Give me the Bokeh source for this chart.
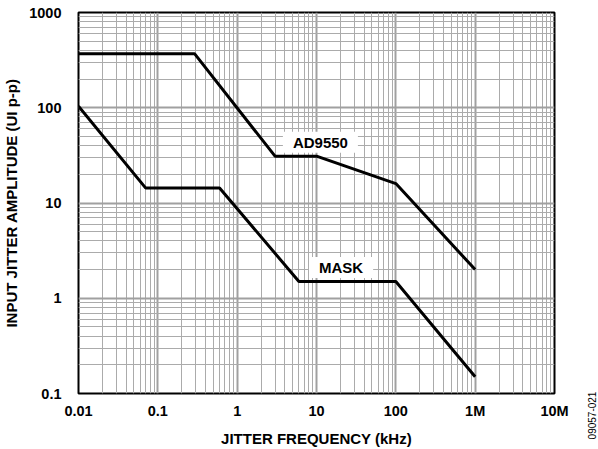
import math
from bokeh.plotting import figure
from bokeh.layouts import row
from bokeh.models import FixedTicker, CustomJSTickFormatter, Label
from bokeh.embed import file_html
from bokeh.resources import INLINE

# ---- data ----
x_ticks = [0.01, 0.1, 1, 10, 100, 1000, 10000]
x_tick_labels = ["0.01", "0.1", "1", "10", "100", "1M", "10M"]
y_ticks = [0.1, 1, 10, 100, 1000]
y_tick_labels = ["0.1", "1", "10", "100", "1000"]

ad9550_freq = [0.01, 0.29, 3.0, 10, 100, 1000]
ad9550_amp = [370, 370, 31, 31, 16, 2.0]

mask_freq = [0.01, 0.07, 0.6, 6, 100, 1000]
mask_amp = [104, 14.4, 14.4, 1.5, 1.5, 0.15]

series_names = ["AD9550", "MASK"]
x_title = "JITTER FREQUENCY (kHz)"
y_title = "INPUT JITTER AMPLITUDE (UI p-p)"
fig_id = "09057-021"

FONT = "Liberation Sans"


def minors(majors):
    out = []
    for m in majors[:-1]:
        for k in range(2, 10):
            out.append(m * k)
    return out


p = figure(width=582, height=449, x_axis_type="log", y_axis_type="log",
           x_range=(x_ticks[0], x_ticks[-1]), y_range=(y_ticks[0], y_ticks[-1]),
           output_backend="svg", toolbar_location=None,
           min_border_left=78, min_border_right=28, min_border_top=12, min_border_bottom=56)

p.background_fill_color = "white"
p.border_fill_color = "white"
p.outline_line_color = "black"
p.outline_line_width = 2

p.xaxis.ticker = FixedTicker(ticks=x_ticks, minor_ticks=minors(x_ticks))
p.yaxis.ticker = FixedTicker(ticks=y_ticks, minor_ticks=minors(y_ticks))

js = """
const i = tvals.findIndex(t => Math.abs(Math.log10(t) - Math.log10(tick)) < 1e-6);
return i >= 0 ? tlabels[i] : "";
"""
p.xaxis.formatter = CustomJSTickFormatter(args=dict(tvals=x_ticks, tlabels=x_tick_labels), code=js)
p.yaxis.formatter = CustomJSTickFormatter(args=dict(tvals=y_ticks, tlabels=y_tick_labels), code=js)

for ax in (p.xaxis, p.yaxis):
    ax.axis_line_color = None
    ax.major_tick_line_color = None
    ax.minor_tick_line_color = None
    ax.major_label_text_font = FONT
    ax.major_label_text_font_style = "bold"
    ax.major_label_text_font_size = "14.5px"
    ax.major_label_text_color = "black"
    ax.axis_label_text_font = FONT
    ax.axis_label_text_font_style = "bold"
    ax.axis_label_text_font_size = "15px"
    ax.axis_label_text_color = "black"

p.xaxis.axis_label = x_title
p.yaxis.axis_label = y_title
p.xaxis.major_label_standoff = 3
p.xaxis.axis_label_standoff = 8
p.yaxis.major_label_standoff = 11
p.yaxis.axis_label_standoff = 6

for g in (p.xgrid, p.ygrid):
    g.grid_line_color = "#a0a0a0"
    g.grid_line_width = 2
    g.minor_grid_line_color = "#ababab"
    g.minor_grid_line_width = 1

p.line(ad9550_freq, ad9550_amp, line_color="black", line_width=3)
p.line(mask_freq, mask_amp, line_color="black", line_width=3)

pad = dict(left=10, right=10, top=2, bottom=2)
p.add_layout(Label(x=11.2, y=43.5, text=series_names[0], text_align="center", text_baseline="middle",
                   text_font=FONT, text_font_style="bold", text_font_size="15px", text_color="black",
                   background_fill_color="white", padding=pad))
p.add_layout(Label(x=20.4, y=2.1, text=series_names[1], text_align="center", text_baseline="middle",
                   text_font=FONT, text_font_style="bold", text_font_size="15px", text_color="black",
                   background_fill_color="white", padding=pad))

# narrow strip on the right carrying the figure id
side = figure(width=16, height=449, x_range=(0, 1), y_range=(0, 1),
              output_backend="svg", toolbar_location=None,
              x_axis_location=None, y_axis_location=None,
              min_border_left=0, min_border_right=0, min_border_top=0, min_border_bottom=0)
side.outline_line_color = None
side.background_fill_color = "white"
side.border_fill_color = "white"
side.xgrid.visible = False
side.ygrid.visible = False

label_y = 34
if "frame_align" in side.properties():
    side.frame_align = False
else:
    label_y = -22
side.add_layout(Label(x=9, y=label_y, x_units="screen", y_units="screen", text=fig_id, angle=math.pi / 2,
                      text_align="center", text_baseline="middle", text_font=FONT,
                      text_font_size="10px", text_color="black"))

layout = row(p, side, spacing=0)
open("out.html", "w").write(file_html(layout, INLINE))
